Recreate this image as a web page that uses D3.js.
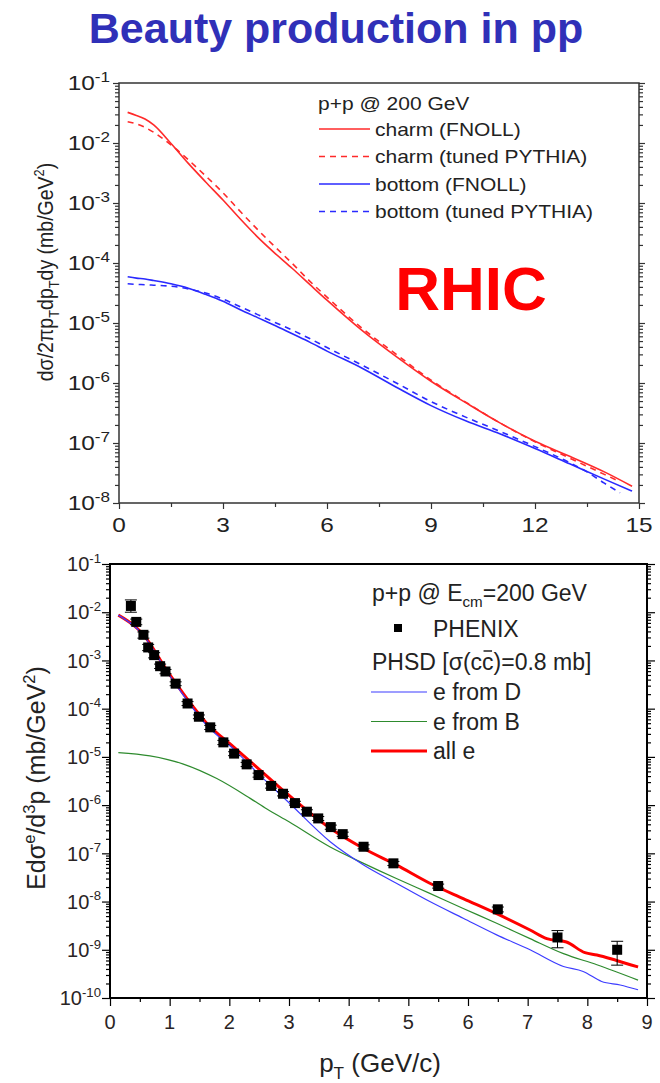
<!DOCTYPE html>
<html>
<head>
<meta charset="utf-8">
<script src="https://cdn.jsdelivr.net/npm/d3@7"></script>
<style>
body { margin: 0; background: #fff; }
svg { display: block; font-family: "Liberation Sans", Arial, sans-serif; }
</style>
</head>
<body>
<div id="chart"></div>
<script>
// ---- top panel: heavy quark spectra, p+p @ 200 GeV ----
var ptGrid = [0.25, 0.5, 0.75, 1, 1.5, 2, 2.5, 3, 3.5, 4, 4.5, 5, 5.5, 6, 7, 8, 9, 10, 11, 12, 13, 14, 14.8];
var charmFnoll = [3.24e-2, 2.88e-2, 2.51e-2, 2.0e-2, 9.8e-3, 4.57e-3, 2.24e-3, 1.12e-3, 5.4e-4, 2.7e-4, 1.45e-4, 8.1e-5, 4.4e-5, 2.4e-5, 7.6e-6, 2.75e-6, 1.07e-6, 4.7e-7, 2.14e-7, 1.07e-7, 6.0e-8, 3.3e-8, 1.9e-8];
var bottomFnoll = [5.9e-5, 5.6e-5, 5.4e-5, 5.1e-5, 4.5e-5, 3.8e-5, 3.0e-5, 2.3e-5, 1.66e-5, 1.23e-5, 9.1e-6, 6.6e-6, 4.8e-6, 3.4e-6, 1.78e-6, 8.5e-7, 4.2e-7, 2.34e-7, 1.41e-7, 8.1e-8, 4.5e-8, 2.5e-8, 1.58e-8];
var ptCharmPy = [0.25, 0.5, 0.75, 1, 1.5, 2, 2.5, 3, 3.5, 4, 4.5, 5, 5.5, 6, 7, 8, 9, 10, 11, 12, 13, 14, 14.4];
var charmPythia = [2.26e-2, 2.09e-2, 1.82e-2, 1.51e-2, 9.3e-3, 5.25e-3, 2.82e-3, 1.48e-3, 7.2e-4, 3.6e-4, 1.86e-4, 9.8e-5, 5.0e-5, 2.7e-5, 8.3e-6, 3.0e-6, 1.12e-6, 4.8e-7, 2.14e-7, 1.05e-7, 5.6e-8, 3.0e-8, 2.34e-8];
var ptBottomPy = [0.25, 0.5, 0.75, 1, 1.5, 2, 2.5, 3, 3.5, 4, 4.5, 5, 5.5, 6, 7, 8, 9, 10, 11, 12, 13, 13.5, 14, 14.45];
var bottomPythia = [4.5e-5, 4.4e-5, 4.35e-5, 4.27e-5, 4.1e-5, 3.7e-5, 3.16e-5, 2.5e-5, 1.86e-5, 1.38e-5, 1.02e-5, 7.6e-6, 5.5e-6, 3.9e-6, 2.0e-6, 1.0e-6, 4.9e-7, 2.7e-7, 1.55e-7, 8.7e-8, 4.7e-8, 3.3e-8, 2.14e-8, 1.48e-8];
var topXTicks = [0, 3, 6, 9, 12, 15];
var topYExp = [-1, -2, -3, -4, -5, -6, -7, -8];

// ---- bottom panel: non-photonic electrons, PHENIX vs PHSD ----
var phenixPt = [0.35, 0.44, 0.56, 0.64, 0.74, 0.84, 0.93, 1.1, 1.3, 1.49, 1.68, 1.9, 2.08, 2.29, 2.49, 2.7, 2.9, 3.1, 3.3, 3.49, 3.7, 3.9, 4.25, 4.75, 5.5, 6.5, 7.5, 8.5];
var phenixVal = [1.35e-2, 6.3e-3, 3.4e-3, 1.86e-3, 1.29e-3, 7.6e-4, 5.9e-4, 3.3e-4, 1.28e-4, 6.8e-5, 4.1e-5, 2.0e-5, 1.17e-5, 7.0e-6, 4.2e-6, 2.5e-6, 1.72e-6, 1.1e-6, 7.3e-7, 5.3e-7, 3.5e-7, 2.5e-7, 1.37e-7, 6.2e-8, 2.1e-8, 6.9e-9, 1.8e-9, 1.0e-9];
var phenixHi = [1.8e-2, 7.2e-3, 3.9e-3, 2.15e-3, 1.45e-3, 8.4e-4, 6.5e-4, 3.6e-4, 1.4e-4, 7.4e-5, 4.5e-5, 2.2e-5, 1.28e-5, 7.7e-6, 4.6e-6, 2.75e-6, 1.9e-6, 1.2e-6, 8.0e-7, 5.8e-7, 3.85e-7, 2.75e-7, 1.5e-7, 6.8e-8, 2.3e-8, 7.7e-9, 2.5e-9, 1.5e-9];
var phenixLo = [1.0e-2, 5.5e-3, 2.9e-3, 1.6e-3, 1.13e-3, 6.8e-4, 5.3e-4, 3.0e-4, 1.16e-4, 6.2e-5, 3.7e-5, 1.8e-5, 1.06e-5, 6.3e-6, 3.8e-6, 2.25e-6, 1.55e-6, 1.0e-6, 6.6e-7, 4.8e-7, 3.15e-7, 2.25e-7, 1.24e-7, 5.6e-8, 1.9e-8, 6.1e-9, 1.1e-9, 4.8e-10];
var ptAll = [0.14, 0.45, 0.56, 0.95, 1.29, 1.62, 2.07, 2.51, 2.96, 3.69, 4.25, 4.8, 5.36, 5.92, 6.48, 7.04, 7.32, 7.65, 7.96, 8.16, 8.49, 8.85];
var allE = [8.7e-3, 4.7e-3, 3.4e-3, 6.3e-4, 1.62e-4, 5.0e-5, 1.62e-5, 5.4e-6, 1.75e-6, 3.3e-7, 1.26e-7, 5.75e-8, 2.4e-8, 1.15e-8, 5.6e-9, 2.57e-9, 1.7e-9, 1.45e-9, 8.7e-10, 7.8e-10, 6.0e-10, 4.4e-10];
var ptD = [0.14, 0.45, 0.56, 0.95, 1.29, 1.62, 2.07, 2.51, 3.0, 3.69, 4.25, 4.8, 5.36, 5.92, 6.48, 7.04, 7.6, 7.93, 8.24, 8.55, 8.85];
var eFromD = [8.7e-3, 4.6e-3, 3.3e-3, 6.0e-4, 1.5e-4, 4.5e-5, 1.45e-5, 4.2e-6, 1.12e-6, 1.74e-7, 5.75e-8, 2.4e-8, 1.0e-8, 4.5e-9, 2.04e-9, 1.0e-9, 4.5e-10, 3.55e-10, 2.2e-10, 1.86e-10, 1.48e-10];
var ptB = [0.14, 0.67, 1.23, 1.79, 2.35, 2.63, 3.0, 3.69, 4.25, 4.8, 5.36, 5.92, 6.48, 7.04, 7.6, 8.16, 8.85];
var eFromB = [1.23e-5, 1.05e-5, 7.1e-6, 3.55e-6, 1.38e-6, 8.3e-7, 4.5e-7, 1.35e-7, 6.2e-8, 3.0e-8, 1.48e-8, 7.2e-9, 3.55e-9, 1.7e-9, 8.3e-10, 4.9e-10, 2.35e-10];
var botXTicks = [0, 1, 2, 3, 4, 5, 6, 7, 8, 9];
var botYExp = [-1, -2, -3, -4, -5, -6, -7, -8, -9, -10];

var svg = d3.select("#chart").append("svg")
    .attr("width", 660)
    .attr("height", 1083);

// text with sub/superscripts, optionally stretched horizontally (the top figure is stretched)
function richText(g, x, y, parts, size, opts) {
    opts = opts || {};
    var tf = "translate(" + x + "," + y + ")";
    if (opts.sx) tf += " scale(" + opts.sx + ",1)";
    if (opts.rotate) tf += " rotate(-90)";
    var t = g.append("text")
        .attr("transform", tf)
        .attr("font-size", size)
        .attr("fill", opts.fill || "#222")
        .attr("text-anchor", opts.anchor || "start");
    var shift = 0;
    parts.forEach(function(p) {
        var s = typeof p === "string" ? [p, ""] : p;
        var target = s[1] === "sup" ? -0.42 * size : s[1] === "sub" ? 0.28 * size : 0;
        var ts = t.append("tspan").text(s[0]).attr("dy", target - shift);
        if (s[1]) ts.attr("font-size", size * (opts.small || 0.66));
        shift = target;
    });
    return t;
}

// title
svg.append("text")
    .attr("x", 336).attr("y", 43)
    .attr("text-anchor", "middle")
    .attr("font-size", 43)
    .attr("font-weight", "bold")
    .attr("fill", "#3030b8")
    .text("Beauty production in pp");

function logAxes(g, x, y, xTicks, xMinor, yExp, o) {
    var x0 = x.range()[0], x1 = x.range()[1], y0 = y.range()[0], y1 = y.range()[1];
    var minors = [];
    yExp.forEach(function(e) {
        for (var k = 2; k <= 9; k++) {
            var v = k * Math.pow(10, e - 1);
            if (v > y.domain()[0] && v < y.domain()[1]) minors.push(v);
        }
    });
    var majors = yExp.map(function(e) { return Math.pow(10, e); });

    g.append("g").attr("transform", "translate(" + x0 + ",0)")
        .call(d3.axisLeft(y).tickValues(majors).tickSize(o.major).tickFormat(""));
    g.append("g").attr("transform", "translate(" + x0 + ",0)")
        .call(d3.axisLeft(y).tickValues(minors).tickSize(o.minor).tickFormat(""));
    g.append("g").attr("transform", "translate(" + x1 + ",0)")
        .call(d3.axisLeft(y).tickValues(majors).tickSize(-o.major).tickFormat(""));
    g.append("g").attr("transform", "translate(" + x1 + ",0)")
        .call(d3.axisLeft(y).tickValues(minors).tickSize(-o.minor).tickFormat(""));
    g.append("g").attr("transform", "translate(0," + y0 + ")")
        .call(d3.axisBottom(x).tickValues(xTicks).tickSize(o.major).tickFormat(""));
    g.append("g").attr("transform", "translate(0," + y0 + ")")
        .call(d3.axisBottom(x).tickValues(xMinor).tickSize(o.minor).tickFormat(""));
    g.selectAll(".domain").remove();
    g.selectAll(".tick line").attr("stroke", o.color).attr("stroke-width", 1.2);

    g.append("rect")
        .attr("x", x0).attr("y", y1)
        .attr("width", x1 - x0).attr("height", y0 - y1)
        .attr("fill", "none")
        .attr("stroke", o.color)
        .attr("stroke-width", o.frame);

    yExp.forEach(function(e) {
        richText(g, o.ylabX, y(Math.pow(10, e)) + o.fs * 0.36,
            ["10", [String(e), "sup"]],
            o.fs, {anchor: "end", sx: o.sx, fill: o.text, small: o.small});
    });
    xTicks.forEach(function(v) {
        richText(g, x(v), o.xlabY, [String(v)], o.fs, {anchor: "middle", sx: o.sx, fill: o.text});
    });
}

// ================= top panel =================
var gTop = svg.append("g");
var xT = d3.scaleLinear().domain([0, 15]).range([119, 639]);
var yT = d3.scaleLog().domain([1e-8, 1e-1]).range([503, 83]);

logAxes(gTop, xT, yT, topXTicks, [1.5, 4.5, 7.5, 10.5, 13.5], topYExp,
    {major: 6, minor: 4, color: "#333", frame: 1.5, fs: 20, sx: 1.22, ylabX: 110, xlabY: 532, text: "#222", small: 0.7});

var lineT = d3.line().curve(d3.curveMonotoneX)
    .x(function(d) { return xT(d[0]); })
    .y(function(d) { return yT(d[1]); });

var topSeries = [
    {pt: ptCharmPy, v: charmPythia, color: "#ff2a2a", dash: "6,5"},
    {pt: ptBottomPy, v: bottomPythia, color: "#2a2aff", dash: "6,5"},
    {pt: ptGrid, v: charmFnoll, color: "#ff2a2a", dash: null},
    {pt: ptGrid, v: bottomFnoll, color: "#2a2aff", dash: null}
];
topSeries.forEach(function(s) {
    gTop.append("path")
        .datum(d3.zip(s.pt, s.v))
        .attr("d", lineT)
        .attr("fill", "none")
        .attr("stroke", s.color)
        .attr("stroke-width", 1.6)
        .attr("stroke-dasharray", s.dash);
});

// legend top
richText(gTop, 318, 110, ["p+p @ 200 GeV"], 17.5, {sx: 1.2});
var topLeg = [
    {label: "charm (FNOLL)", color: "#ff2a2a", dash: null},
    {label: "charm (tuned PYTHIA)", color: "#ff2a2a", dash: "6,5"},
    {label: "bottom (FNOLL)", color: "#2a2aff", dash: null},
    {label: "bottom (tuned PYTHIA)", color: "#2a2aff", dash: "6,5"}
];
topLeg.forEach(function(d, i) {
    var yy = 129 + i * 27.5;
    gTop.append("line")
        .attr("x1", 319).attr("x2", 370)
        .attr("y1", yy).attr("y2", yy)
        .attr("stroke", d.color).attr("stroke-width", 1.6)
        .attr("stroke-dasharray", d.dash);
    richText(gTop, 375, yy + 6.5, [d.label], 17.5, {sx: 1.2});
});

svg.append("text")
    .attr("x", 471).attr("y", 310)
    .attr("text-anchor", "middle")
    .attr("font-size", 62)
    .attr("font-weight", "bold")
    .attr("fill", "#ff0000")
    .text("RHIC");

richText(gTop, 53, 272, ["d\u03c3/2\u03c0p", ["T", "sub"], "dp", ["T", "sub"], "dy (mb/GeV", ["2", "sup"], ")"], 19.5,
    {anchor: "middle", rotate: true, sx: 1.1});

// ================= bottom panel =================
var gBot = svg.append("g");
var xB = d3.scaleLinear().domain([0, 9]).range([110, 647]);
var yB = d3.scaleLog().domain([1e-10, 1e-1]).range([998, 564]);

logAxes(gBot, xB, yB, botXTicks, [0.5, 1.5, 2.5, 3.5, 4.5, 5.5, 6.5, 7.5, 8.5], botYExp,
    {major: 8, minor: 4, color: "#000", frame: 2, fs: 20, sx: 1, ylabX: 101, xlabY: 1029, text: "#2a2424", small: 0.66});

var lineB = d3.line().curve(d3.curveMonotoneX)
    .x(function(d) { return xB(d[0]); })
    .y(function(d) { return yB(d[1]); });

var botSeries = [
    {pt: ptB, v: eFromB, color: "#2e8b2e", w: 1.2},
    {pt: ptAll, v: allE, color: "#ff0000", w: 3},
    {pt: ptD, v: eFromD, color: "#3c3cff", w: 1.2}
];
botSeries.forEach(function(s) {
    gBot.append("path")
        .datum(d3.zip(s.pt, s.v))
        .attr("d", lineB)
        .attr("fill", "none")
        .attr("stroke", s.color)
        .attr("stroke-width", s.w);
});

// PHENIX data
var pts = gBot.append("g");
phenixPt.forEach(function(p, i) {
    var cx = xB(p);
    pts.append("line")
        .attr("x1", cx).attr("x2", cx)
        .attr("y1", yB(phenixHi[i])).attr("y2", yB(phenixLo[i]))
        .attr("stroke", "#000").attr("stroke-width", 1);
    [phenixHi[i], phenixLo[i]].forEach(function(e) {
        pts.append("line")
            .attr("x1", cx - 6).attr("x2", cx + 6)
            .attr("y1", yB(e)).attr("y2", yB(e))
            .attr("stroke", "#000").attr("stroke-width", 1);
    });
    pts.append("rect")
        .attr("x", cx - 5).attr("y", yB(phenixVal[i]) - 5)
        .attr("width", 10).attr("height", 10)
        .attr("fill", "#000");
});

// legend bottom
richText(gBot, 372, 601, ["p+p @ E", ["cm", "sub"], "=200 GeV"], 23);
gBot.append("rect").attr("x", 394).attr("y", 624).attr("width", 8).attr("height", 8).attr("fill", "#000");
richText(gBot, 433, 637, ["PHENIX"], 23);
var phsd = richText(gBot, 372, 670, ["PHSD [\u03c3(cc)=0.8 mb]"], 23);
// bar over the second c (extent is in the text's own coordinates)
var ext = phsd.node().getExtentOfChar(9);
gBot.append("line")
    .attr("x1", 372 + ext.x + 1.5).attr("x2", 372 + ext.x + ext.width - 1.5)
    .attr("y1", 670 + ext.y + 2).attr("y2", 670 + ext.y + 2)
    .attr("stroke", "#222").attr("stroke-width", 1.5);

var botLeg = [
    {label: "e from D", color: "#3c3cff", w: 1.2},
    {label: "e from B", color: "#2e8b2e", w: 1.2},
    {label: "all e", color: "#ff0000", w: 3}
];
botLeg.forEach(function(d, i) {
    var yy = 692 + i * 29.5;
    gBot.append("line")
        .attr("x1", 371).attr("x2", 427)
        .attr("y1", yy).attr("y2", yy)
        .attr("stroke", d.color).attr("stroke-width", d.w);
    richText(gBot, 433, yy + 8, [d.label], 23);
});

richText(gBot, 45, 778, ["Ed\u03c3", ["e", "sup"], "/d", ["3", "sup"], "p (mb/GeV", ["2", "sup"], ")"], 25,
    {anchor: "middle", rotate: true, fill: "#222"});
richText(gBot, 380, 1072, ["p", ["T", "sub"], " (GeV/c)"], 26, {anchor: "middle", fill: "#222"});
</script>
</body>
</html>
